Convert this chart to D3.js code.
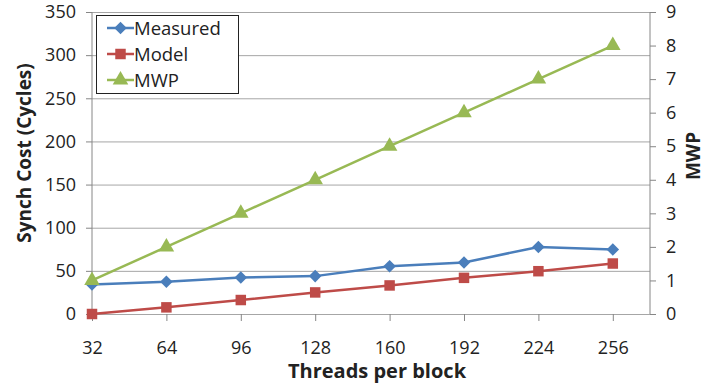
<!DOCTYPE html>
<html lang="en">
  <head>
    <meta charset="utf-8">
    <title>Synch cost</title>
    <style>
      body { margin: 0; background: #fff; }
      text { font-family: "Open Sans", sans-serif; fill: #222; }
    </style>
  </head>
  <body>
    <div class="graph"></div>
    <script src="https://d3js.org/d3.v7.min.js"></script>
    <script>
      var threads = ['32', '64', '96', '128', '160', '192', '224', '256'];
      var measured = [34.3, 37.3, 42.4, 43.9, 55.4, 59.7, 77.7, 74.7];
      var model = [0, 7.7, 16.2, 25, 33.1, 41.9, 49.6, 58.5];
      var mwp = [1, 2, 3, 4, 5, 6, 7, 8];
      var leftTicks = [0, 50, 100, 150, 200, 250, 300, 350];
      var rightTicks = [0, 1, 2, 3, 4, 5, 6, 7, 8, 9];

      var width = 706, height = 387;
      var plotLeft = 92, plotRight = 650, plotTop = 12, plotBottom = 314;

      var svg = d3.select('.graph').append('svg')
          .attr('width', width)
          .attr('height', height);

      // category index -> x, last category sits half a step from the right edge
      var x = d3.scaleLinear().domain([0, 7.5]).range([plotLeft, plotRight]);
      var y = d3.scaleLinear().domain([0, 350]).range([plotBottom, plotTop]);
      var y2 = d3.scaleLinear().domain([0, 9]).range([plotBottom, plotTop]);

      // gridlines
      svg.append('g').selectAll('line')
          .data(leftTicks)
          .enter().append('line')
          .attr('x1', plotLeft).attr('x2', plotRight)
          .attr('y1', function(d) { return y(d) + 0.5; })
          .attr('y2', function(d) { return y(d) + 0.5; })
          .attr('stroke', '#a6a6a6')
          .attr('stroke-width', 1);

      var yAxis = svg.append('g')
          .attr('transform', 'translate(' + plotLeft + ',0)')
          .call(d3.axisLeft(y).tickValues(leftTicks).tickSize(6).tickPadding(10));
      var y2Axis = svg.append('g')
          .attr('transform', 'translate(' + plotRight + ',0)')
          .call(d3.axisRight(y2).tickValues(rightTicks).tickSize(6).tickPadding(10));
      var xAxis = svg.append('g')
          .attr('transform', 'translate(0,' + plotBottom + ')')
          .call(d3.axisBottom(x).tickValues(d3.range(threads.length))
                .tickFormat(function(i) { return threads[i]; })
                .tickSize(7).tickPadding(20));

      [yAxis, y2Axis, xAxis].forEach(function(a) {
        a.select('.domain').attr('stroke', '#868686').attr('stroke-width', 1);
        a.selectAll('.tick line').attr('stroke', '#868686');
        a.selectAll('.tick text').attr('font-size', 18).attr('fill', '#222');
      });
      yAxis.select('.domain').attr('d', 'M0,' + plotTop + 'V' + plotBottom);
      y2Axis.select('.domain').attr('d', 'M0,' + plotTop + 'V' + plotBottom);
      xAxis.select('.domain').remove();

      // axis titles
      svg.append('text')
          .attr('transform', 'translate(31,153) rotate(-90)')
          .attr('text-anchor', 'middle')
          .attr('font-size', 19).attr('font-weight', 'bold')
          .text('Synch Cost (Cycles)');
      svg.append('text')
          .attr('transform', 'translate(700,156) rotate(-90)')
          .attr('text-anchor', 'middle')
          .attr('font-size', 19).attr('font-weight', 'bold')
          .text('MWP');
      svg.append('text')
          .attr('x', 377).attr('y', 378)
          .attr('text-anchor', 'middle')
          .attr('font-size', 20).attr('font-weight', 'bold')
          .text('Threads per block');

      var series = [
        { name: 'Measured', values: measured, scale: y, color: '#4a7ebb', shape: d3.symbolDiamond2, size: 100 },
        { name: 'Model', values: model, scale: y, color: '#be4b48', shape: d3.symbolSquare, size: 110 },
        { name: 'MWP', values: mwp, scale: y2, color: '#98b954', shape: d3.symbolTriangle, size: 105 }
      ];

      series.forEach(function(s) {
        var line = d3.line()
            .x(function(d, i) { return x(i); })
            .y(function(d) { return s.scale(d); });
        svg.append('path')
            .datum(s.values)
            .attr('d', line)
            .attr('fill', 'none')
            .attr('stroke', s.color)
            .attr('stroke-width', 2.5);
        svg.append('g').selectAll('path')
            .data(s.values)
            .enter().append('path')
            .attr('d', d3.symbol().type(s.shape).size(s.size))
            .attr('transform', function(d, i) {
              return 'translate(' + x(i) + ',' + s.scale(d) + ')';
            })
            .attr('fill', s.color);
      });

      // legend
      var legend = svg.append('g');
      legend.append('rect')
          .attr('x', 96.5).attr('y', 15.5)
          .attr('width', 142).attr('height', 78)
          .attr('fill', '#fff').attr('stroke', '#222').attr('stroke-width', 1);
      series.forEach(function(s, i) {
        var ly = 28 + i * 26;
        legend.append('line')
            .attr('x1', 107).attr('x2', 134)
            .attr('y1', ly).attr('y2', ly)
            .attr('stroke', s.color).attr('stroke-width', 2.5);
        legend.append('path')
            .attr('d', d3.symbol().type(s.shape).size(s.size))
            .attr('transform', 'translate(120.5,' + ly + ')')
            .attr('fill', s.color);
        legend.append('text')
            .attr('x', 134).attr('y', ly + 6.5)
            .attr('font-size', 18.5)
            .text(s.name);
      });
    </script>
  </body>
</html>
